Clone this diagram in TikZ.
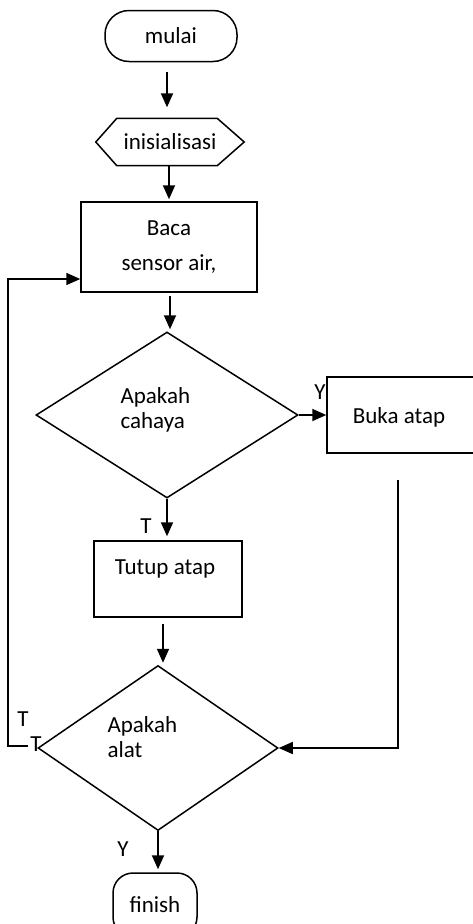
\documentclass[tikz,border=0pt]{standalone}
\usepackage{fontspec}
\setmainfont{Carlito}
\usetikzlibrary{shapes.geometric,arrows.meta,calc}
\begin{document}
\begin{tikzpicture}[x=1pt,y=-1pt,
  every node/.style={font=\fontsize{23}{27}\selectfont},
  shp/.style={draw,line width=1.5pt,inner sep=0pt},
  arr/.style={line width=1.9pt,-{Triangle[length=14pt,width=12pt]}},
  ln/.style={line width=1.5pt}]
\useasboundingbox (0,0) rectangle (473,924);
\clip (0,0) rectangle (473,924);
% nodes
\node[shp, rounded corners=24pt, minimum width=132pt, minimum height=51pt] (mulai) at (171,36) {mulai};
\node[minimum width=148pt, minimum height=47pt, inner sep=0pt] (init) at (170,142) {inisialisasi};
\draw[ln] (init.west) -- ([xshift=21pt]init.north west) -- ([xshift=-27pt]init.north east) -- (init.east) -- ([xshift=-27pt]init.south east) -- ([xshift=21pt]init.south west) -- cycle;
\node[shp, minimum width=176pt, minimum height=90pt, align=center, font=\fontsize{23}{35}\selectfont] (baca) at (169,247) {Baca\\sensor air,};
\node[shp, diamond, minimum width=262pt, minimum height=166pt] (d1) at (167,415) {};
\node[align=left, anchor=west, font=\fontsize{23}{25}\selectfont] (d1txt) at (117,410) {Apakah\\cahaya};
\node[shp, minimum width=160pt, minimum height=76pt] (buka) at (407,415) {};
\node (bukatxt) at (399,417) {Buka atap};
\node[shp, minimum width=148pt, minimum height=76pt] (tutup) at (168,579) {};
\node (tutuptxt) at (165,569) {Tutup atap};
\node[shp, diamond, minimum width=240pt, minimum height=165pt] (d2) at (158,748) {};
\node[align=left, anchor=west, font=\fontsize{23}{25}\selectfont] (d2txt) at (104,737) {Apakah\\alat};
\node[shp, rounded corners=20pt, minimum width=84pt, minimum height=64pt] (finish) at (155,905) {finish};
% connectors
\draw[arr] ([xshift=-4pt,yshift=-10pt]mulai.south) -- ([xshift=-3pt,yshift=11pt]init.north);
\draw[arr, shorten >=2pt] ([xshift=-1pt]init.south) -- ([xshift=-1pt]init.south |- baca.north);
\draw[arr, shorten >=2pt] ([xshift=1pt,yshift=-3pt]baca.south) -- ([xshift=1pt]baca.south |- d1.north);
\draw[arr] (d1.east) -- (d1.east -| buka.west);
\draw[arr, shorten >=4pt] (d1.south) -- (d1.south |- tutup.north);
\draw[arr, shorten >=2pt] ([xshift=-5pt,yshift=-6pt]tutup.south) -- ([xshift=-5pt]tutup.south |- d2.north);
\coordinate (bk) at (398,480);
\draw[arr, line width=1.5pt] (bk) |- (d2.east);
\coordinate (lp) at (28,746);
\draw[arr, line width=1.5pt] (lp) -- (8,746) |- ([yshift=-32pt]baca.west);
\draw[arr, shorten >=3pt] (d2.south) -- (d2.south |- finish.north);
% labels
\node (ly1) at (320,392) {Y};
\node (lt1) at (146,526) {T};
\node (lt2) at (23,719) {T};
\node (lt3) at (36,744) {T};
\node (ly2) at (123,849) {Y};
\end{tikzpicture}
\end{document}
